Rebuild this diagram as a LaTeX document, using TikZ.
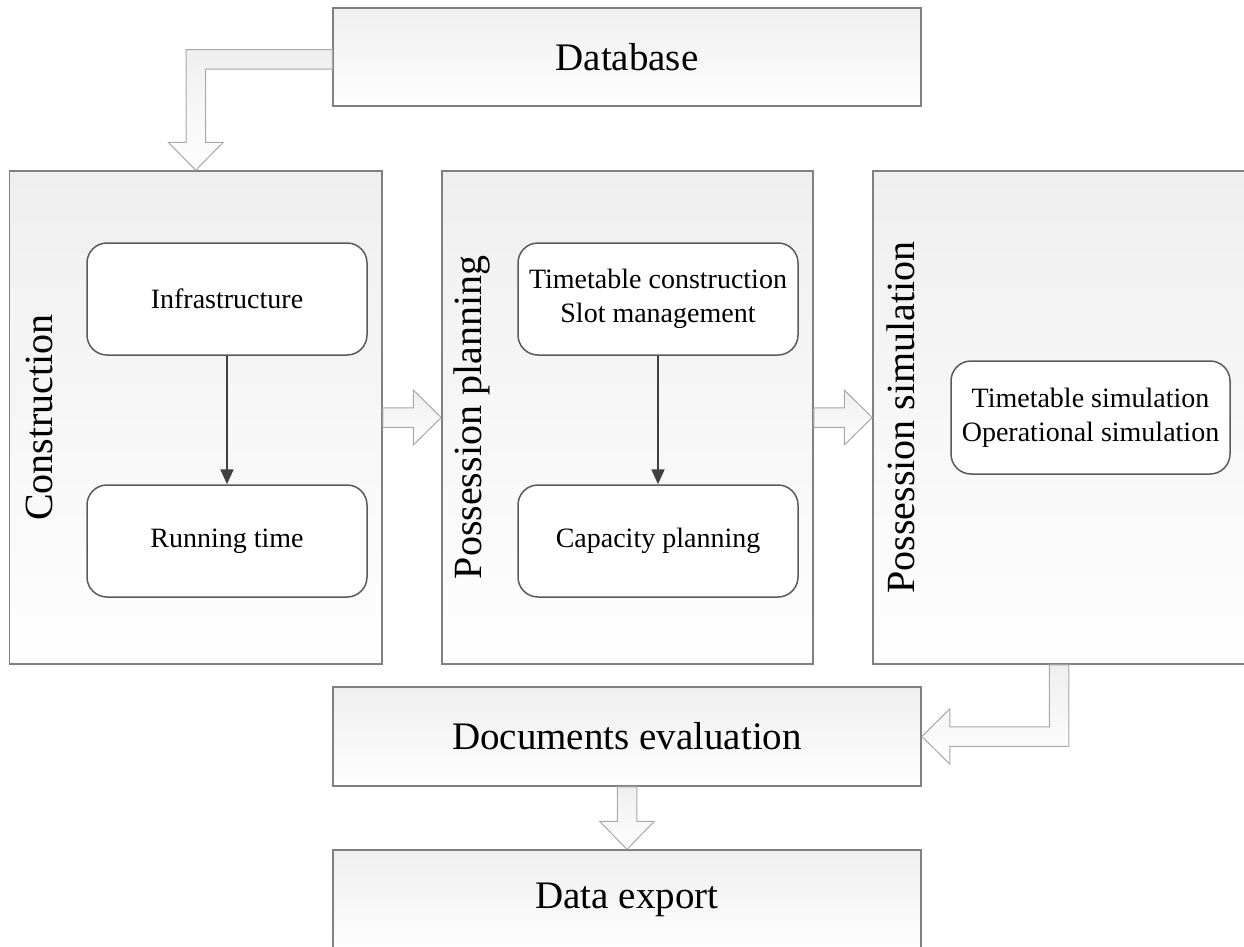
\documentclass[tikz,border=0pt]{standalone}
\usepackage{fontspec}
\setmainfont{Liberation Serif}
\usetikzlibrary{arrows.meta,calc}
\definecolor{boxline}{HTML}{808080}
\definecolor{gradtop}{HTML}{EFEFEF}
\definecolor{gradbot}{HTML}{FEFEFE}
\definecolor{innerline}{HTML}{5A5A5A}
\definecolor{arrline}{HTML}{A8A8A8}
\definecolor{arrdark}{HTML}{404040}
\begin{document}
\begin{tikzpicture}[x=1pt,y=-1pt,
  bigbox/.style={draw=boxline, line width=1.5pt, top color=gradtop, bottom color=gradbot,
    rectangle, inner sep=0pt, font=\fontsize{39}{47}\selectfont},
  innerbox/.style={draw=innerline, line width=1.5pt, fill=white, rounded corners=20pt,
    minimum width=280pt, minimum height=112pt, inner sep=0pt, align=center,
    font=\fontsize{28}{34}\selectfont},
  vlabel/.style={rotate=90, inner sep=0pt, font=\fontsize{40}{48}\selectfont},
  blockarrow/.style={draw=arrline, line width=1pt, top color=gradtop, bottom color=gradbot},
  flowarrow/.style={draw=arrdark, line width=2pt, -{Triangle[width=13pt,length=15pt]}}
]
\useasboundingbox (0,0) rectangle (1244,947);

% main boxes
\node[bigbox, minimum width=588pt, minimum height=98pt] (db) at (627,57) {Database};
\node[bigbox, minimum width=372.5pt, minimum height=493pt] (cons) at (195.75,417.5) {};
\node[bigbox, minimum width=371pt, minimum height=493pt] (plan) at (627.5,417.5) {};
\node[bigbox, minimum width=372pt, minimum height=493pt] (sim) at (1059,417.5) {};
\node[bigbox, minimum width=588pt, minimum height=99pt] (doc) at (627,736.5) {Documents evaluation};
\node[bigbox, minimum width=588pt, minimum height=99pt] (exp) at (627,899.5) {Data export};

% vertical labels
\node[vlabel] (consl) at ($(cons.west)+(30.5,0)$) {Construction};
\node[vlabel] (planl) at ($(plan.west)+(31,0)$) {Possession planning};
\node[vlabel] (siml) at ($(sim.west)+(29,0)$) {Possession simulation};

% inner boxes
\node[innerbox] (infra) at (227,299) {Infrastructure};
\node[innerbox] (run) at (227,541) {Running time};
\node[innerbox] (ttc) at (658,299) {Timetable construction\\Slot management};
\node[innerbox] (cap) at (658,541) {Capacity planning};
\node[innerbox, minimum width=279pt, minimum height=113pt] (tts) at (1090.5,417.5) {Timetable simulation\\Operational simulation};

% inner flow arrows
\draw[flowarrow] (infra.south) -- (run.north);
\draw[flowarrow] (ttc.south) -- (cap.north);

% block arrow: Database -> Construction
\coordinate (a1s) at ($(db.west)+(0,2.5)$);
\coordinate (a1t) at (cons.north);
\path[blockarrow] ($(a1s)+(0,-9.75)$) -- ($(a1t|-a1s)+(-9.75,-9.75)$)
  -- ($(a1t)+(-9.75,-28)$) -- ($(a1t)+(-27.5,-28)$) -- (a1t)
  -- ($(a1t)+(27.5,-28)$) -- ($(a1t)+(9.75,-28)$)
  -- ($(a1t|-a1s)+(9.75,9.75)$) -- ($(a1s)+(0,9.75)$) -- cycle;

% block arrow: Construction -> Possession planning
\path[blockarrow] ($(cons.east)+(0,-9.75)$) -- ($(plan.west)+(-28,-9.75)$)
  -- ($(plan.west)+(-28,-27.5)$) -- (plan.west) -- ($(plan.west)+(-28,27.5)$)
  -- ($(plan.west)+(-28,9.75)$) -- ($(cons.east)+(0,9.75)$) -- cycle;

% block arrow: Possession planning -> Possession simulation
\path[blockarrow] ($(plan.east)+(0,-9.75)$) -- ($(sim.west)+(-28,-9.75)$)
  -- ($(sim.west)+(-28,-27.5)$) -- (sim.west) -- ($(sim.west)+(-28,27.5)$)
  -- ($(sim.west)+(-28,9.75)$) -- ($(plan.east)+(0,9.75)$) -- cycle;

% block arrow: Possession simulation -> Documents evaluation
\coordinate (a4s) at (sim.south);
\coordinate (a4t) at (doc.east);
\path[blockarrow] ($(a4s)+(-9.75,0)$) -- ($(a4s|-a4t)+(-9.75,-9.75)$)
  -- ($(a4t)+(28,-9.75)$) -- ($(a4t)+(28,-27.5)$) -- (a4t)
  -- ($(a4t)+(28,27.5)$) -- ($(a4t)+(28,9.75)$)
  -- ($(a4s|-a4t)+(9.75,9.75)$) -- ($(a4s)+(9.75,0)$) -- cycle;

% block arrow: Documents evaluation -> Data export
\path[blockarrow] ($(doc.south)+(-9.75,0)$) -- ($(exp.north)+(-9.75,-28)$)
  -- ($(exp.north)+(-27.5,-28)$) -- (exp.north) -- ($(exp.north)+(27.5,-28)$)
  -- ($(exp.north)+(9.75,-28)$) -- ($(doc.south)+(9.75,0)$) -- cycle;
\end{tikzpicture}
\end{document}
